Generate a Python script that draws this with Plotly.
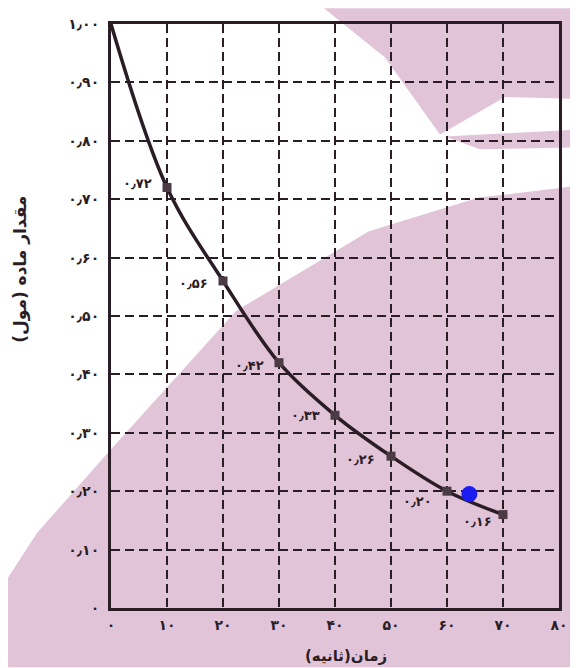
import plotly.graph_objects as go

# زمان (ثانیه) و مقدار ماده (مول)
time_s = [0, 10, 20, 30, 40, 50, 60, 70]
amount_mol = [1.00, 0.72, 0.56, 0.42, 0.33, 0.26, 0.20, 0.16]
point_labels = ['', '۰٫۷۲', '۰٫۵۶', '۰٫۴۲', '۰٫۳۳', '۰٫۲۶', '۰٫۲۰', '۰٫۱۶']

# blue mark drawn on the scan
blue_x = [64]
blue_y = [0.195]

x_ticks = [0, 10, 20, 30, 40, 50, 60, 70, 80]
x_ticktext = ['۰', '۱۰', '۲۰', '۳۰', '۴۰', '۵۰', '۶۰', '۷۰', '۸۰']
y_ticks = [0, 0.1, 0.2, 0.3, 0.4, 0.5, 0.6, 0.7, 0.8, 0.9, 1.0]
y_ticktext = ['۰', '۰٫۱۰', '۰٫۲۰', '۰٫۳۰', '۰٫۴۰', '۰٫۵۰', '۰٫۶۰', '۰٫۷۰', '۰٫۸۰', '۰٫۹۰', '۱٫۰۰']

# page has an 8px body margin, so the figure is a bit smaller
W, H = 570, 660
L, R, T, B = 103, 19, 8, 60
ink = '#2a1d25'
pink = '#e2c4d8'
font = 'DejaVu Sans'

# plot area in screen pixels
X0, X1, Y0, Y1 = 111, 559, 16, 608


def to_paper(pts):
    # screen pixel -> paper coords, only for the watermark background
    out = [((px - X0) / (X1 - X0), (Y1 - py) / (Y1 - Y0)) for px, py in pts]
    return 'M ' + ' L '.join(f'{a:.4f},{b:.4f}' for a, b in out) + ' Z'


watermark = [
    [(0, 590), (37, 532), (111, 447), (236, 307), (369, 226), (479, 192), (578, 180), (578, 668), (0, 668)],
    [(324, 0), (578, 0), (578, 92), (505, 90), (440, 128), (385, 50)],
    [(445, 130), (578, 123), (578, 141), (480, 143)],
]

fig = go.Figure()

fig.add_trace(go.Scatter(
    x=time_s, y=amount_mol, mode='lines',
    line=dict(color=ink, width=3.5, shape='spline', smoothing=1),
    hoverinfo='skip', showlegend=False))

fig.add_trace(go.Scatter(
    x=time_s[1:], y=amount_mol[1:], mode='markers',
    marker=dict(symbol='square', size=9, color='#4a3b44'),
    showlegend=False))

fig.add_trace(go.Scatter(
    x=blue_x, y=blue_y, mode='markers',
    marker=dict(symbol='circle', size=16, color='#1c1cf2'),
    showlegend=False))

# labels next to the points
offsets = {1: (-30, -4), 2: (-30, 3), 3: (-30, 3), 4: (-30, 0), 5: (-31, 3), 6: (-30, 10), 7: (-26, 7)}
for i, lab in enumerate(point_labels):
    if not lab:
        continue
    dx, dy = offsets[i]
    fig.add_annotation(x=time_s[i], y=amount_mol[i], text=lab, showarrow=False,
                       xshift=dx, yshift=-dy,
                       font=dict(family=font, size=13, color=ink, weight='bold'))

fig.add_annotation(x=42, y=-0.083, xref='x', yref='paper', text='زمان(ثانیه)',
                   showarrow=False, xanchor='center', yanchor='middle',
                   font=dict(family=font, size=15, color=ink, weight='bold'))
fig.add_annotation(x=-0.202, y=0.58, xref='paper', yref='paper', text='مقدار ماده (مول)',
                   textangle=-90, showarrow=False, xanchor='center', yanchor='middle',
                   font=dict(family=font, size=17, color=ink, weight='bold'))

fig.update_layout(
    width=W, height=H,
    margin=dict(l=L, r=R, t=T, b=B),
    paper_bgcolor='white', plot_bgcolor='rgba(0,0,0,0)',
    shapes=[dict(type='path', path=to_paper(p), xref='paper', yref='paper',
                 fillcolor=pink, line=dict(width=0), layer='below') for p in watermark],
)

fig.update_xaxes(range=[0, 80], tickvals=x_ticks, ticktext=x_ticktext,
                 showline=True, mirror=True, linecolor=ink, linewidth=3,
                 showgrid=True, gridcolor=ink, gridwidth=2, griddash='9px,5px',
                 zeroline=False, ticks='', ticklabelstandoff=2,
                 tickfont=dict(family=font, size=14, color=ink, weight='bold'))
fig.update_yaxes(range=[0, 1.0], tickvals=y_ticks, ticktext=y_ticktext,
                 showline=True, mirror=True, linecolor=ink, linewidth=3,
                 showgrid=True, gridcolor=ink, gridwidth=2, griddash='9px,5px',
                 zeroline=False, ticks='', ticklabelstandoff=6,
                 tickfont=dict(family=font, size=14, color=ink, weight='bold'))

fig.write_html('out.html')
